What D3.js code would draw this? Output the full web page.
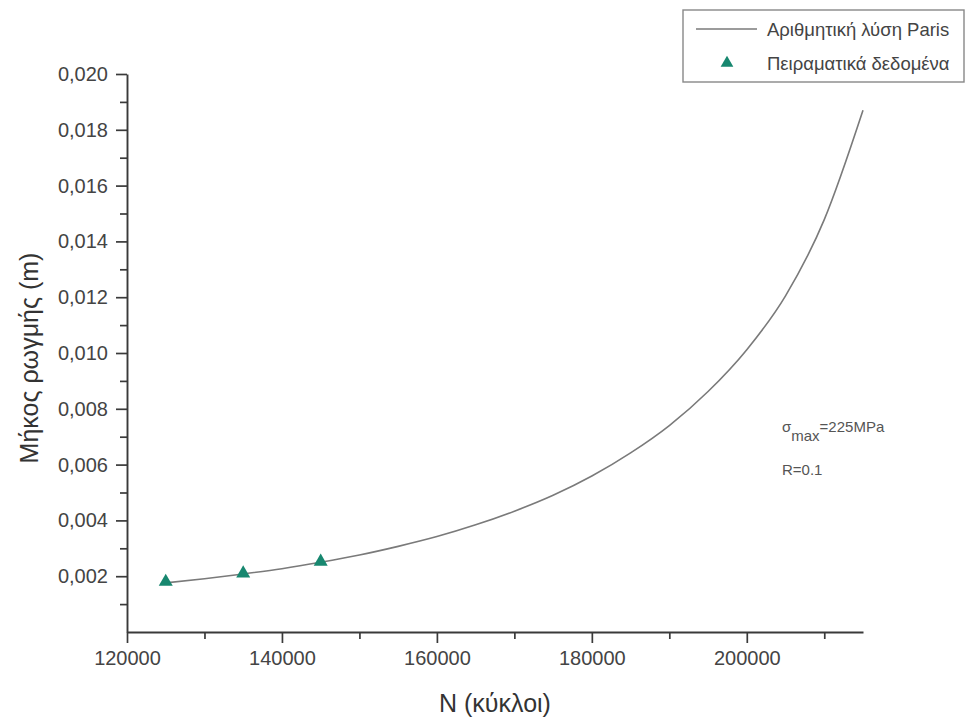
<!DOCTYPE html>
<html>
<head>
<meta charset="utf-8">
<script src="https://cdn.jsdelivr.net/npm/d3@7"></script>
<style>
  html, body { margin: 0; padding: 0; background: #fff; }
  svg { display: block; font-family: "Liberation Sans", Arial, sans-serif; }
</style>
</head>
<body>
<svg id="chart" width="966" height="720"></svg>
<script>
// Paris-law numerical solution: crack length (m) vs number of cycles
const curveCycles = [125000, 130000, 135000, 140000, 145000, 150000, 155000, 160000,
                     165000, 170000, 175000, 180000, 185000, 190000, 195000, 200000,
                     205000, 210000, 215000];
const curveLength = [0.00176, 0.00191, 0.00208, 0.00227, 0.00250, 0.00276, 0.00307, 0.00342,
                     0.00384, 0.00433, 0.00490, 0.00559, 0.00642, 0.00740, 0.00862, 0.01012,
                     0.01205, 0.01478, 0.01870];

// Experimental measurements
const expCycles = [125000, 135000, 145000];
const expLength = [0.00180, 0.00210, 0.00252];

// Axis ticks
const xTicks = [120000, 140000, 160000, 180000, 200000];
const xMinorTicks = [130000, 150000, 170000, 190000, 210000];
const yTicks = [0.002, 0.004, 0.006, 0.008, 0.010, 0.012, 0.014, 0.016, 0.018, 0.020];
const yMinorTicks = [0.001, 0.003, 0.005, 0.007, 0.009, 0.011, 0.013, 0.015, 0.017, 0.019];

const labels = {
  x: "N (κύκλοι)",
  y: "Μήκος ρωγμής (m)",
  line: "Αριθμητική λύση Paris",
  points: "Πειραματικά δεδομένα"
};

const svg = d3.select("#chart");
const plotLeft = 127, plotRight = 863, plotTop = 74, plotBottom = 632;

const x = d3.scaleLinear().domain([120000, 215000]).range([plotLeft, plotRight]);
const y = d3.scaleLinear().domain([0, 0.020]).range([plotBottom, plotTop]);

const axisColor = "#3a3a3a";
const textColor = "#444";
const fmt = v => d3.format(".3f")(v).replace(".", ",");

function styleAxis(g, size) {
  g.selectAll("line").attr("stroke", axisColor).attr("stroke-width", 1.7);
  g.selectAll("path").attr("stroke", axisColor).attr("stroke-width", 1.9);
  g.selectAll("text").attr("fill", textColor).attr("font-size", size);
}

// X axis: minor then major ticks
const gxMinor = svg.append("g").attr("transform", `translate(0,${plotBottom})`)
  .call(d3.axisBottom(x).tickValues(xMinorTicks).tickSize(7).tickFormat(""));
gxMinor.select(".domain").remove();
styleAxis(gxMinor, 20);
const gx = svg.append("g").attr("transform", `translate(0,${plotBottom})`)
  .call(d3.axisBottom(x).tickValues(xTicks).tickSize(11).tickSizeOuter(0).tickPadding(8)
    .tickFormat(d3.format("d")));
styleAxis(gx, 20);

// Y axis: minor then major ticks
const gyMinor = svg.append("g").attr("transform", `translate(${plotLeft},0)`)
  .call(d3.axisLeft(y).tickValues(yMinorTicks).tickSize(7).tickFormat(""));
gyMinor.select(".domain").remove();
styleAxis(gyMinor, 20);
const gy = svg.append("g").attr("transform", `translate(${plotLeft},0)`)
  .call(d3.axisLeft(y).tickValues(yTicks).tickSize(11).tickSizeOuter(0).tickPadding(8)
    .tickFormat(fmt));
styleAxis(gy, 20);

// Axis titles
svg.append("text")
  .attr("x", (plotLeft + plotRight) / 2).attr("y", 712)
  .attr("text-anchor", "middle").attr("font-size", 25).attr("fill", "#333")
  .text(labels.x);
svg.append("text")
  .attr("transform", `translate(38,358) rotate(-90)`)
  .attr("text-anchor", "middle").attr("font-size", 25).attr("fill", "#333")
  .text(labels.y);

// Numerical curve
const curveData = curveCycles.map((n, i) => [n, curveLength[i]]);
svg.append("path")
  .datum(curveData)
  .attr("fill", "none")
  .attr("stroke", "#7a7a7a")
  .attr("stroke-width", 1.6)
  .attr("d", d3.line().x(d => x(d[0])).y(d => y(d[1])).curve(d3.curveMonotoneX));

// Experimental points
const tri = d3.symbol().type(d3.symbolTriangle).size(85);
const markerColor = "#17876f";
svg.append("g").selectAll("path")
  .data(expCycles.map((n, i) => [n, expLength[i]]))
  .join("path")
  .attr("d", tri)
  .attr("transform", d => `translate(${x(d[0])},${y(d[1])})`)
  .attr("fill", markerColor);

// Legend
const lg = svg.append("g");
lg.append("rect").attr("x", 683).attr("y", 10).attr("width", 281).attr("height", 72)
  .attr("fill", "#fff").attr("stroke", "#888").attr("stroke-width", 1.4);
lg.append("line").attr("x1", 696).attr("x2", 757).attr("y1", 29).attr("y2", 29)
  .attr("stroke", "#7a7a7a").attr("stroke-width", 1.4);
lg.append("text").attr("x", 767).attr("y", 36).attr("font-size", 18.5).attr("fill", "#444")
  .text(labels.line);
lg.append("path").attr("d", d3.symbol().type(d3.symbolTriangle).size(70))
  .attr("transform", "translate(727,63)").attr("fill", markerColor);
lg.append("text").attr("x", 767).attr("y", 70).attr("font-size", 18.5).attr("fill", "#444")
  .text(labels.points);

// Loading annotation
const ann = svg.append("text").attr("x", 782).attr("y", 432).attr("font-size", 15).attr("fill", "#555");
ann.append("tspan").text("σ");
ann.append("tspan").attr("dy", 9).text("max");
ann.append("tspan").attr("dy", -9).text("=225MPa");
svg.append("text").attr("x", 782).attr("y", 475).attr("font-size", 15).attr("fill", "#555").text("R=0.1");
</script>
</body>
</html>
